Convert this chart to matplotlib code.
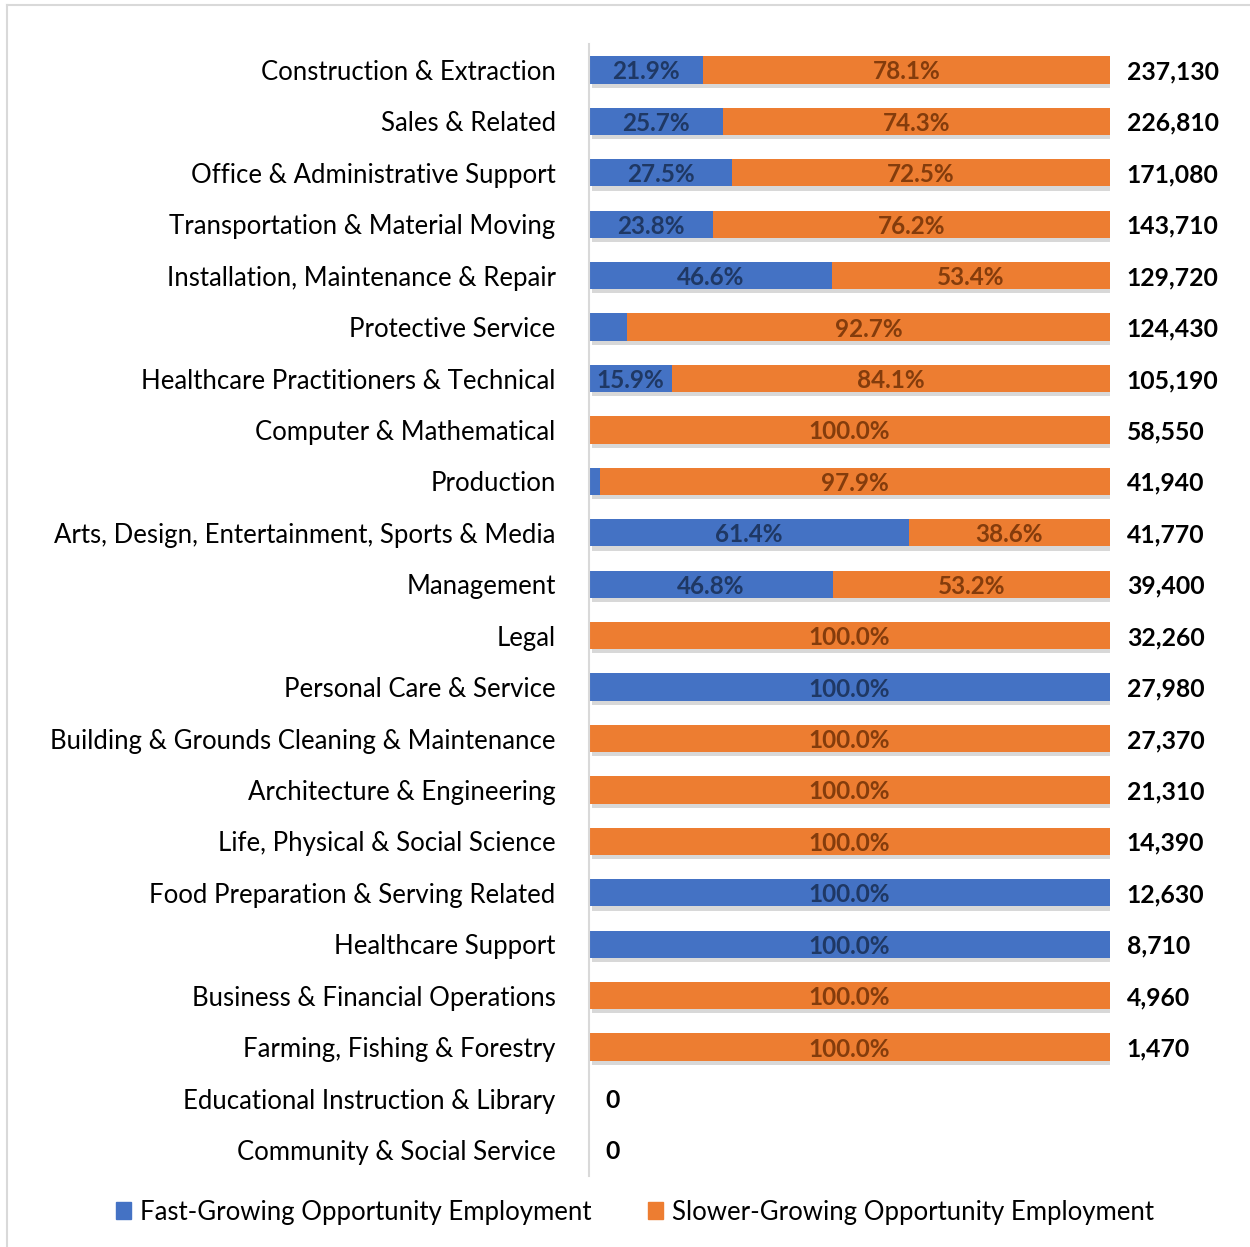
import numpy as np
import matplotlib
matplotlib.use('Agg')
import matplotlib.pyplot as plt
from matplotlib import patheffects as pe
from matplotlib.lines import Line2D
from matplotlib.patches import Patch

plt.rcParams['font.family'] = ['Lato', 'DejaVu Sans']

categories = [
    'Construction & Extraction', 'Sales & Related', 'Office & Administrative Support',
    'Transportation & Material Moving', 'Installation, Maintenance & Repair',
    'Protective Service', 'Healthcare Practitioners & Technical', 'Computer & Mathematical',
    'Production', 'Arts, Design, Entertainment, Sports & Media', 'Management', 'Legal',
    'Personal Care & Service', 'Building & Grounds Cleaning & Maintenance',
    'Architecture & Engineering', 'Life, Physical & Social Science',
    'Food Preparation & Serving Related', 'Healthcare Support',
    'Business & Financial Operations', 'Farming, Fishing & Forestry',
    'Educational Instruction & Library', 'Community & Social Service',
]
fast_pct = [21.9, 25.7, 27.5, 23.8, 46.6, 7.3, 15.9, 0.0, 2.1, 61.4, 46.8, 0.0,
            100.0, 0.0, 0.0, 0.0, 100.0, 100.0, 0.0, 0.0, 0.0, 0.0]
slow_pct = [78.1, 74.3, 72.5, 76.2, 53.4, 92.7, 84.1, 100.0, 97.9, 38.6, 53.2, 100.0,
            0.0, 100.0, 100.0, 100.0, 0.0, 0.0, 100.0, 100.0, 0.0, 0.0]
totals = [237130, 226810, 171080, 143710, 129720, 124430, 105190, 58550, 41940, 41770,
          39400, 32260, 27980, 27370, 21310, 14390, 12630, 8710, 4960, 1470, 0, 0]

BLUE = '#4472c4'
ORANGE = '#ed7d31'

fig = plt.figure(figsize=(12.5, 12.47), dpi=100)
ax = fig.add_axes([0.4712, 0.0572, 0.4168, 0.9073])

y = np.arange(len(categories))
shadow = [pe.SimplePatchShadow(offset=(2.5, -3), shadow_rgbFace='#808080', alpha=0.3), pe.Normal()]
ax.barh(y, fast_pct, height=0.53, color=BLUE, path_effects=shadow)
ax.barh(y, slow_pct, left=fast_pct, height=0.53, color=ORANGE, path_effects=shadow)

for i in range(len(categories)):
    f, s = fast_pct[i], slow_pct[i]
    if f >= 10:
        ax.text(f / 2, i, f'{f:.1f}%', ha='center', va='center_baseline', fontsize=17.5,
                fontweight='bold', color='#1f3864')
    if s >= 10:
        ax.text(f + s / 2, i, f'{s:.1f}%', ha='center', va='center_baseline', fontsize=17.5,
                fontweight='bold', color='#843c0c')
    ax.annotate(f'{totals[i]:,}', xy=(f + s, i), xytext=(12, 0), textcoords='offset points',
                ha='left', va='center_baseline', fontsize=17.8, fontweight='bold', color='black')

ax.set_xlim(0, 100)
ax.set_ylim(len(categories) - 0.5, -0.5)
ax.set_yticks(y)
ax.set_yticklabels(categories, fontsize=18.5, va='center_baseline')
ax.tick_params(axis='y', length=0, pad=24)
ax.set_xticks([])
for side in ['top', 'right', 'bottom']:
    ax.spines[side].set_visible(False)
ax.spines['left'].set_color('#d9d9d9')
ax.spines['left'].set_linewidth(1.5)

handles = [Patch(color=BLUE, label='Fast-Growing Opportunity Employment'),
           Patch(color=ORANGE, label='Slower-Growing Opportunity Employment')]
fig.legend(handles=handles, loc='center', bbox_to_anchor=(0.508, 0.028), ncol=2,
           frameon=False, fontsize=18.5, handlelength=0.6, handleheight=0.6,
           handletextpad=0.35, columnspacing=2.2)

# outer border (top and left edge visible)
fig.add_artist(Line2D([7 / 1250, 1.0], [1 - 5 / 1247, 1 - 5 / 1247], color='#d9d9d9', lw=1.5))
fig.add_artist(Line2D([7 / 1250, 7 / 1250], [0.0, 1 - 5 / 1247], color='#d9d9d9', lw=1.5))

fig.savefig('out.png', dpi=100)
